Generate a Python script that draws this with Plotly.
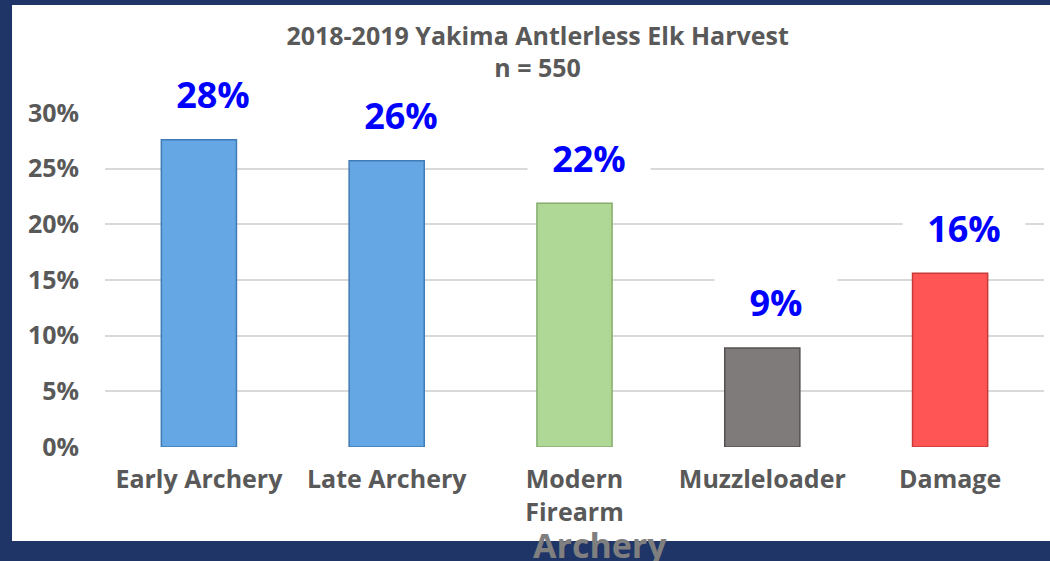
import plotly.graph_objects as go

# harvest share by season, percent of n = 550
categories = ['Early Archery', 'Late Archery', 'Modern<br>Firearm', 'Muzzleloader', 'Damage']
shares = [27.6, 25.7, 21.9, 8.9, 15.6]
bar_colors = ['#64a7e4', '#64a7e4', '#afd896', '#7f7b7b', '#ff5555']
edge_colors = ['#3f7bb5', '#3f7bb5', '#86ad6c', '#555151', '#c83a3a']
y_ticks = [0, 5, 10, 15, 20, 25, 30]

label_text = [f"{round(v)}%" for v in shares]
y_tick_text = [f"{t}%" for t in y_ticks]
gray = '#595959'
font_name = 'Open Sans'

fig = go.Figure()

fig.add_trace(go.Bar(
    x=categories,
    y=shares,
    marker=dict(color=bar_colors, line=dict(color=edge_colors, width=1.5)),
    width=0.4,
    hoverinfo='skip',
))

# data labels (white box hides the gridline behind them, like Excel does)
for cat, val, txt in zip(categories, shares, label_text):
    fig.add_annotation(
        x=cat, y=val, text=txt, showarrow=False,
        yanchor='middle', yshift=45, xshift=14,
        font=dict(family=font_name, size=36, color='#0000ff', weight='bold'),
        bgcolor='white', width=120,
    )

# overflowing text from the slide underneath
fig.add_annotation(
    xref='paper', yref='paper', x=0.527, y=-0.218,
    xanchor='center', yanchor='top', showarrow=False,
    text='Archery',
    font=dict(family=font_name, size=34, color='#7f7f7f', weight='bold'),
)

# white chart panel on the blue slide
fig.add_shape(
    type='rect', xref='paper', yref='paper',
    x0=-0.099, x1=1.02, y0=-0.2814, y1=1.3234,
    fillcolor='white', line=dict(width=0), layer='below',
)

fig.update_layout(
    width=1050, height=561,
    margin=dict(l=105, r=6, t=113, b=114),
    paper_bgcolor='#1f3568',
    plot_bgcolor='rgba(0,0,0,0)',
    showlegend=False,
    font=dict(family=font_name, color=gray),
    title=dict(
        text='2018-2019 Yakima Antlerless Elk Harvest<br>n = 550',
        x=0.512, xanchor='center', y=0.92, yanchor='top',
        font=dict(family=font_name, size=25, color=gray, weight='bold'),
    ),
    xaxis=dict(
        showgrid=False, showline=False, ticks='',
        tickfont=dict(family=font_name, size=25, color=gray, weight='bold'),
        ticklabelstandoff=15,
    ),
    yaxis=dict(
        range=[0, 30], tickvals=y_ticks, ticktext=y_tick_text,
        showgrid=True, gridcolor='#d9d9d9', gridwidth=1.5,
        zeroline=False, showline=False, ticks='',
        tickfont=dict(family=font_name, size=25, color=gray, weight='bold'),
        ticklabelstandoff=25,
    ),
)

# drop the page margin so the figure sits at the window's corner
fig.write_html('out.html', config={'displayModeBar': False},
               post_script="document.body.style.margin = '0';")
